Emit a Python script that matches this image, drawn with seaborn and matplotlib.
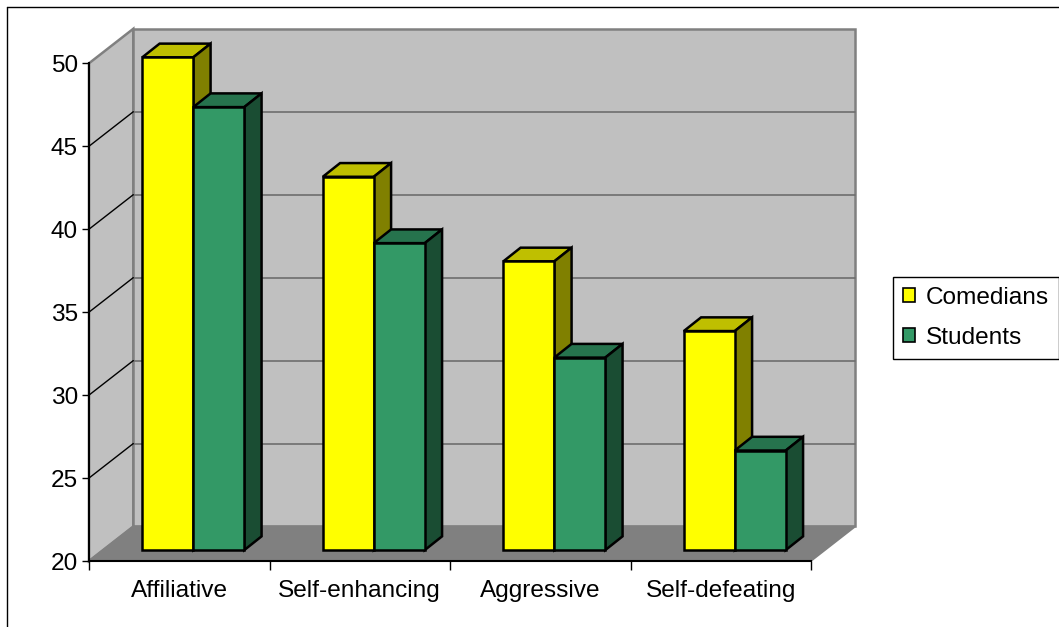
import matplotlib
matplotlib.use("Agg")
import matplotlib.pyplot as plt
import matplotlib.colors as mcolors
from matplotlib.patches import Polygon, Patch
from matplotlib.lines import Line2D
import numpy as np
import pandas as pd
import seaborn as sns

# data
categories = ["Affiliative", "Self-enhancing", "Aggressive", "Self-defeating"]
groups = ["Comedians", "Students"]
comedians = [49.7, 42.5, 37.4, 33.2]
students = [46.7, 38.5, 31.6, 26.0]
y_ticks = [20, 25, 30, 35, 40, 45, 50]

colors = ["#FFFF00", "#339966"]

sns.set_theme(style="white")
plt.rcParams['font.family'] = ['Liberation Sans', 'DejaVu Sans']
plt.rcParams['text.color'] = 'black'
plt.rcParams['xtick.labelcolor'] = 'black'
plt.rcParams['ytick.labelcolor'] = 'black'
FS = 17.6

df = pd.DataFrame({
    "trait": categories * 2,
    "score": comedians + students,
    "group": [groups[0]] * len(categories) + [groups[1]] * len(categories),
})

W, H = 1059, 627
fig = plt.figure(figsize=(W / 100, H / 100), dpi=100)
fig.patch.set_facecolor("white")
# front plane of the fake 3D box
ax = fig.add_axes([89 / W, (H - 561) / H, (811 - 89) / W, (561 - 63.3) / H])
ax.set_facecolor("none")

sns.barplot(data=df, x="trait", y="score", hue="group", palette=colors,
            width=0.565, saturation=1, edgecolor="black", linewidth=1.8,
            legend=False, ax=ax)
ax.set_xlim(-0.5, 3.5)
ax.set_ylim(20, 50)
bars = sorted(ax.patches, key=lambda p: p.get_x())

# depth of the box (full) and of the bars, in data units
dx, dy = 0.2454, 2.08
dx0, dy0 = 0.0778, 0.66      # bar front plane offset
dxb, dyb = 0.0958, 0.826     # bar thickness
x_lo, x_hi = ax.get_xlim()
y_lo, y_hi = ax.get_ylim()

wall_c = "#C0C0C0"
floor_c = "#808080"
edge_c = "#808080"

left_wall = Polygon([(x_lo, y_lo), (x_lo, y_hi), (x_lo + dx, y_hi + dy), (x_lo + dx, y_lo + dy)],
                    closed=True, facecolor=wall_c, edgecolor=edge_c, lw=1.8, zorder=0.5, clip_on=False)
back_wall = Polygon([(x_lo + dx, y_lo + dy), (x_lo + dx, y_hi + dy), (x_hi + dx, y_hi + dy), (x_hi + dx, y_lo + dy)],
                    closed=True, facecolor=wall_c, edgecolor=edge_c, lw=1.8, zorder=0.5, clip_on=False)
floor = Polygon([(x_lo, y_lo), (x_hi, y_lo), (x_hi + dx, y_lo + dy), (x_lo + dx, y_lo + dy)],
                closed=True, facecolor=floor_c, edgecolor=edge_c, lw=1.2, zorder=0.6, clip_on=False)
for p in (left_wall, back_wall, floor):
    ax.add_patch(p)

for v in y_ticks[1:-1]:
    ax.plot([x_lo + dx, x_hi + dx], [v + dy, v + dy], color="#6E6E6E", lw=1.2, zorder=0.7, clip_on=False)
    ax.plot([x_lo, x_lo + dx], [v, v + dy], color="black", lw=1.0, zorder=0.7, clip_on=False)


def shade(c, f):
    r, g, b = mcolors.to_rgb(c)
    return (r * f, g * f, b * f)


for i, bar in enumerate(bars):
    val = bar.get_height()
    fc = bar.get_facecolor()
    bar.set_x(bar.get_x() + dx0)
    bar.set_y(y_lo + dy0)
    bar.set_height(val - y_lo)
    bar.set_clip_on(False)
    bar.set_zorder(2.05 + i * 0.1)
    x0 = bar.get_x()
    x1 = x0 + bar.get_width()
    top = val + dy0
    base = y_lo + dy0
    top_face = Polygon([(x0, top), (x1, top), (x1 + dxb, top + dyb), (x0 + dxb, top + dyb)],
                       closed=True, facecolor=shade(fc, 0.75), edgecolor="black", lw=1.8,
                       zorder=2 + i * 0.1, clip_on=False)
    side_face = Polygon([(x1, base), (x1, top), (x1 + dxb, top + dyb), (x1 + dxb, base + dyb)],
                        closed=True, facecolor=shade(fc, 0.5), edgecolor="black", lw=1.8,
                        zorder=2 + i * 0.1, clip_on=False)
    ax.add_patch(top_face)
    ax.add_patch(side_face)

# axes
for s in ("top", "right"):
    ax.spines[s].set_visible(False)
for s in ("left", "bottom"):
    ax.spines[s].set_color("black")
    ax.spines[s].set_linewidth(1.5)
    ax.spines[s].set_zorder(3)
ax.set_yticks(y_ticks)
ax.set_yticklabels([str(t) for t in y_ticks], fontsize=FS)
ax.tick_params(axis="y", direction="out", length=5, width=1, color="black", labelcolor="black", pad=3, left=True)
ax.set_xticks(range(len(categories)))
ax.set_xticklabels(categories, fontsize=FS)
ax.set_xticks(np.arange(-0.5, len(categories), 1), minor=True)
ax.tick_params(axis="x", which="major", length=0, pad=14, labelcolor="black")
ax.tick_params(axis="x", which="minor", direction="out", length=6.5, width=1, color="black", bottom=True)
ax.set_xlabel("")
ax.set_ylabel("")
ax.grid(False)

handles = [Patch(facecolor=c, edgecolor="black", lw=1.2, label=g) for g, c in zip(groups, colors)]
leg = fig.legend(handles=handles, loc="upper left", bbox_to_anchor=(893 / W, 1 - 277 / H),
                 frameon=True, fancybox=False, edgecolor="black", framealpha=1, fontsize=FS,
                 handlelength=0.5, handleheight=0.5, handletextpad=0.45, labelspacing=0.75,
                 borderpad=0.4, borderaxespad=0)
leg.get_frame().set_linewidth(1)
for t in leg.get_texts():
    t.set_color("black")

# chart border (only top and left visible in the crop)
fig.add_artist(Line2D([7 / W, 1], [1 - 7 / H, 1 - 7 / H], transform=fig.transFigure, color="black", lw=1))
fig.add_artist(Line2D([7 / W, 7 / W], [0, 1 - 7 / H], transform=fig.transFigure, color="black", lw=1))

fig.savefig("out.png", dpi=100)
